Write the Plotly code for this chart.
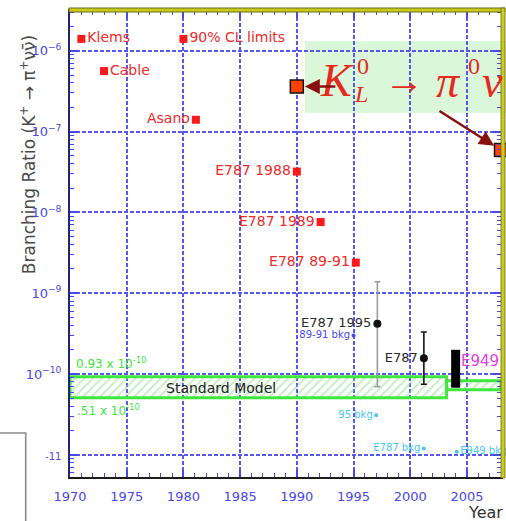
import math
import plotly.graph_objects as go

# ---- data -------------------------------------------------------------
# 90% CL upper limits on BR(K+ -> pi+ nu nubar)
limit_names = ["Klems", "Cable", "Asano", "E787 1988", "E787 1989", "E787 89-91"]
limit_years = [1971.0, 1973.0, 1981.1, 1990.0, 1992.1, 1995.2]
limit_br = [1.4e-6, 5.6e-7, 1.4e-7, 3.2e-8, 7.6e-9, 2.4e-9]
limit_side = ["middle right", "middle right", "middle left",
              "middle left", "middle left", "middle left"]

legend_name = "90% CL limits"
legend_year = 1980.0
legend_br = 1.4e-6

# measured branching ratios with asymmetric errors
meas_names = ["E787 1995", "E787"]
meas_years = [1997.1, 2001.2]
meas_br = [4.2e-10, 1.57e-10]
meas_up = [9.7e-10, 1.75e-10]
meas_dn = [3.5e-10, 0.82e-10]

# E949 combined result
e949_name = "E949"
e949_year = 2004.0
e949_br = 1.47e-10
e949_lo = 6.8e-11
e949_hi = 2.0e-10

# expected background levels
bkg_names = ["89-91 bkg", "95 bkg", "E787 bkg", "E949 bkg"]
bkg_years = [1995.0, 1997.0, 2001.2, 2004.1]
bkg_br = [3.0e-10, 3.1e-11, 1.2e-11, 1.1e-11]
bkg_side = ["middle left", "middle left", "middle left", "middle right"]

# Standard Model prediction bands (year edges, lower and upper bounds)
sm_years = [1970.0, 2003.2, 2008.0]
sm_lower = [0.51e-10, 0.64e-10]
sm_upper = [0.93e-10, 0.83e-10]

# K_L -> pi0 nu nubar limits
kl_years = [1990.0, 2008.0]
kl_br = [3.6e-7, 5.9e-8]

x_ticks = [1970, 1975, 1980, 1985, 1990, 1995, 2000, 2005]
y_exps = [-11, -10, -9, -8, -7, -6]

# ---- layout geometry --------------------------------------------------
W, H = 506, 521
ML, MR, MT, MB = 70, 3, 11, 44
PW, PH = W - ML - MR, H - MT - MB


def px(x):
    return (x - ML) / PW


def py(y):
    return (H - MB - y) / PH


BLUE = "#4848ea"
GRID = "#5656f0"
RED = "#f02a2a"
CYAN = "#45c8f2"
GREEN = "#3ee63e"
FONT = "DejaVu Sans"

fig = go.Figure()

# Standard Model bands (hatched)
for i in range(len(sm_lower)):
    x0, x1 = sm_years[i], sm_years[i + 1]
    lo, hi = sm_lower[i], sm_upper[i]
    fig.add_trace(go.Scatter(
        x=[x0, x1, x1, x0, x0], y=[lo, lo, hi, hi, lo],
        mode="lines", fill="toself",
        fillcolor="rgba(255,255,255,0)",
        fillpattern=dict(shape="/", fgcolor="#8cdc8c",
                         bgcolor="rgba(255,255,255,0)", size=6, solidity=0.35),
        line=dict(color=GREEN, width=3),
        hoverinfo="skip", cliponaxis=False))

# upper limits
fig.add_trace(go.Scatter(
    x=limit_years, y=limit_br, text=limit_names, mode="markers+text",
    textposition=limit_side,
    marker=dict(symbol="square", size=8, color="#ff1a1a"),
    textfont=dict(family=FONT, size=14, color=RED)))
fig.add_trace(go.Scatter(
    x=[legend_year], y=[legend_br], text=[legend_name], mode="markers+text",
    textposition="middle right",
    marker=dict(symbol="square", size=8, color="#ff1a1a"),
    textfont=dict(family=FONT, size=14, color=RED)))

# measurements
meas_colors = ["#9c9c9c", "#151515"]
for i in range(len(meas_names)):
    fig.add_trace(go.Scatter(
        x=[meas_years[i]], y=[meas_br[i]], text=[meas_names[i]],
        mode="markers+text", textposition="middle left",
        error_y=dict(type="data", array=[meas_up[i]], arrayminus=[meas_dn[i]],
                     color=meas_colors[i], thickness=1.6, width=3),
        marker=dict(symbol="circle", size=8, color="#111111"),
        textfont=dict(family=FONT, size=13, color="#2a2a2a")))

# E949 interval
fig.add_trace(go.Scatter(
    x=[e949_year], y=[e949_br], mode="markers",
    marker=dict(symbol="circle", size=9, color="#f4b8f0")))
fig.add_trace(go.Scatter(
    x=[e949_year, e949_year], y=[e949_lo, e949_hi], mode="lines",
    line=dict(color="#000000", width=9)))

# backgrounds
bkg_colors = [BLUE, CYAN, CYAN, CYAN]
fig.add_trace(go.Scatter(
    x=bkg_years, y=bkg_br, text=bkg_names, mode="markers+text",
    textposition=bkg_side,
    marker=dict(symbol="circle", size=4, color=bkg_colors),
    textfont=dict(family=FONT, size=10, color=bkg_colors),
    cliponaxis=False))

# K_L limits
fig.add_trace(go.Scatter(
    x=kl_years, y=kl_br, mode="markers",
    marker=dict(symbol="square", size=13, color="#ff4200",
                line=dict(color="#111111", width=1.5)),
    cliponaxis=False))

# ---- annotations ------------------------------------------------------
ann = []


def label(text, x, y, size, color, family=FONT, xanchor="center", **kw):
    ann.append(dict(x=px(x), y=py(y), xref="paper", yref="paper",
                    xanchor=xanchor, yanchor="middle", text=text,
                    showarrow=False, font=dict(family=family, size=size, color=color),
                    **kw))


# E949 label next to its bar
ann.append(dict(x=e949_year, y=math.log10(e949_br), xref="x", yref="y",
                xanchor="left", yanchor="middle", xshift=3, text=e949_name,
                showarrow=False, font=dict(family=FONT, size=15, color="#e23fe0")))

# Standard Model labels
label("Standard Model", 222, 388, 14, "#222222")
label(f"{sm_upper[0] * 1e10:.2f} x 10<sup>-10</sup>", 74, 363, 12, GREEN, xanchor="left")
label(f"{sm_lower[0] * 1e10:.2f}".lstrip("0") + " x 10<sup>-10</sup>", 75, 410, 12,
      GREEN, xanchor="left")

# axis titles
label("Branching Ratio (K<sup>+</sup> \u2192 \u03c0<sup>+</sup>\u03bd\u03bd\u0304)",
      28, 155, 17, "#4a4a4a", textangle=-90)
label("Year", 468, 512, 16, "#333333", xanchor="left")

# K_L -> pi0 nu nubar title
SERIF = "Liberation Serif"
KLRED = "#e42a1e"
label("<i>K</i>", 338, 80, 46, KLRED, family=SERIF)
label("0", 364, 66, 24, KLRED, family=SERIF)
label("<i>L</i>", 362, 94, 24, KLRED, family=SERIF)
label("\u2192", 406, 80, 40, KLRED, family=SERIF)
label("<i>\u03c0</i>", 450, 82, 46, KLRED, family=SERIF)
label("0", 476, 66, 24, KLRED, family=SERIF)
label("<i>\u03bd \u03bd\u0304</i>", 482, 82, 46, KLRED, family=SERIF, xanchor="left")

# arrows to the K_L limits
ann.append(dict(x=kl_years[0], y=math.log10(kl_br[0]), xref="x", yref="y",
                ax=40, ay=0, axref="pixel", ayref="pixel", text="",
                showarrow=True, arrowhead=2, arrowsize=1.2, arrowwidth=2.5,
                arrowcolor="#8a1010", standoff=8))
ann.append(dict(x=kl_years[1], y=math.log10(kl_br[1]), xref="x", yref="y",
                ax=-63, ay=-40, axref="pixel", ayref="pixel", text="",
                showarrow=True, arrowhead=2, arrowsize=1.2, arrowwidth=2.5,
                arrowcolor="#8a1010", standoff=8))

# ---- shapes -----------------------------------------------------------
shapes = [
    # highlighted K_L panel
    dict(type="rect", xref="paper", yref="paper",
         x0=px(306), x1=px(510), y0=py(113), y1=py(41),
         fillcolor="rgba(196,242,196,0.62)", line=dict(width=0), layer="between"),
    # frame top and right
    dict(type="rect", xref="paper", yref="paper",
         x0=px(69), x1=px(507), y0=py(12), y1=py(8),
         fillcolor="#cccc18", line=dict(color="#6a6a1a", width=1), layer="above"),
    dict(type="rect", xref="paper", yref="paper",
         x0=px(503), x1=px(507), y0=py(478), y1=py(8),
         fillcolor="#cccc18", line=dict(color="#6a6a1a", width=0.8), layer="above"),
    # box in the lower left corner
    dict(type="rect", xref="paper", yref="paper",
         x0=px(-10), x1=px(25.5), y0=py(540), y1=py(433),
         fillcolor="rgba(0,0,0,0)", line=dict(color="#8a8a8a", width=1.6),
         layer="above"),
]

minor_y = [k * 10.0 ** e for e in range(-12, -5) for k in range(2, 10)]
y_text = [f"10<sup>\u2212{-e}</sup>" for e in y_exps]
y_text[0] = f"<span style='font-size:10px'>-{-y_exps[0]}</span>"

fig.update_layout(
    width=W, height=H,
    margin=dict(l=ML, r=MR, t=MT, b=MB),
    paper_bgcolor="white", plot_bgcolor="white",
    showlegend=False,
    annotations=ann, shapes=shapes,
    xaxis=dict(
        range=[1970, 2008], tickmode="array", tickvals=x_ticks,
        ticks="inside", ticklen=7, tickwidth=1.5, tickcolor=BLUE,
        minor=dict(dtick=1, ticks="inside", ticklen=4, tickwidth=1.3,
                   tickcolor=BLUE, showgrid=False),
        showgrid=True, gridcolor=GRID, gridwidth=1.6, griddash="4px,2px",
        showline=True, linecolor="#1c1c1c", linewidth=2, mirror="ticks",
        zeroline=False, ticklabelstandoff=6,
        tickfont=dict(family=FONT, size=13, color=BLUE)),
    yaxis=dict(
        type="log", range=[-11.272, -5.509], tickmode="array",
        tickvals=[10.0 ** e for e in y_exps], ticktext=y_text,
        ticks="inside", ticklen=8, tickwidth=1.5, tickcolor=BLUE,
        minor=dict(tickmode="array", tickvals=minor_y, ticks="inside",
                   ticklen=4, tickwidth=1.3, tickcolor=BLUE, showgrid=False),
        showgrid=True, gridcolor=GRID, gridwidth=1.6, griddash="4px,2px",
        showline=True, linecolor="#23237a", linewidth=2, mirror="ticks",
        zeroline=False, ticklabelstandoff=4,
        tickfont=dict(family=FONT, size=13, color=BLUE)),
)

fig.write_html("out.html")
